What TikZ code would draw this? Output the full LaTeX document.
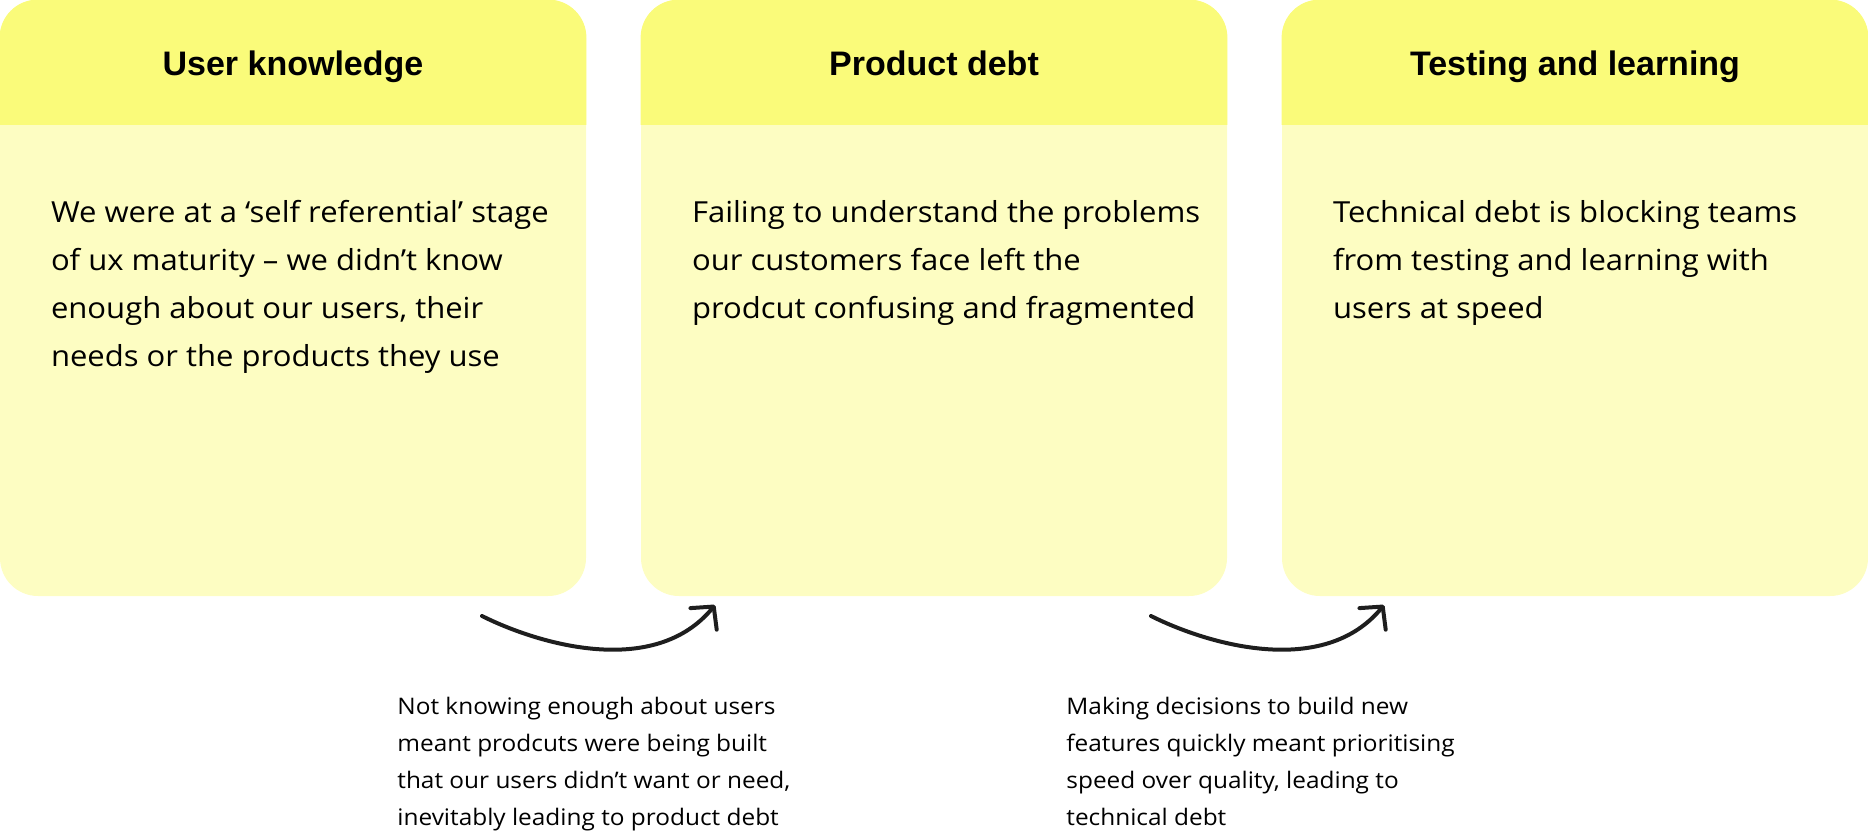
\documentclass[tikz,border=0pt]{standalone}
\usepackage{fontspec}
\setmainfont{Open Sans}[FakeStretch=1.07]
\newfontfamily\headfont{Liberation Sans}
\usepackage{tikz}
\usetikzlibrary{arrows.meta}
\definecolor{headfill}{RGB}{250,251,122}
\definecolor{bodyfill}{RGB}{253,253,194}
\definecolor{pen}{RGB}{30,30,30}

\begin{document}
\begin{tikzpicture}[x=0.5pt, y=-0.5pt, line cap=round, line join=round,
    card/.style={rectangle, rounded corners=19pt, fill=bodyfill, inner sep=0pt,
                 minimum width=293pt, minimum height=298pt},
    cardtitle/.style={font=\headfont\fontsize{17}{20}\selectfont\bfseries, text=black,
                      anchor=base},
    cardtext/.style={font=\fontsize{14.5}{24}\selectfont, text=black, align=left,
                     inner sep=0pt, anchor=north west},
    caption/.style={font=\fontsize{11.4}{18.5}\selectfont, text=black, align=left,
                    inner sep=0pt, anchor=north west},
    flow/.style={pen, line width=2pt, -{Straight Barb[length=8pt, width=17pt, round]}}]

  %========= frame =========
  \useasboundingbox (0,0) rectangle (1868,835);

  %========= cards =========
  \foreach \i/\cx/\ttl in {1/293/User knowledge, 2/934/Product debt, 3/1575/Testing and learning}{
    \node[card] (card\i) at (\cx,298) {};
    \begin{scope}
      \clip (card\i.north west) rectangle ([yshift=-62.5pt]card\i.north east);
      \fill[headfill, rounded corners=19pt] (card\i.north west) rectangle (card\i.south east);
    \end{scope}
    \node[cardtitle] (title\i) at ([yshift=-38pt]card\i.north) {\ttl};
  }

  %========= card texts =========
  \node[cardtext] (text1) at ([xshift=25.5pt, yshift=-100pt]card1.north west)
    {We were at a ‘self referential’ stage\\of ux maturity – we didn’t know\\enough about our users, their\\needs or the products they use};
  \node[cardtext] (text2) at ([xshift=25.5pt, yshift=-100pt]card2.north west)
    {Failing to understand the problems\\our customers face left the\\prodcut confusing and fragmented};
  \node[cardtext] (text3) at ([xshift=25.5pt, yshift=-100pt]card3.north west)
    {Technical debt is blocking teams\\from testing and learning with\\users at speed};

  %========= arrows between cards =========
  \foreach \j/\dx in {1/0, 2/669}{
    \coordinate (from\j) at (482+\dx,616);
    \coordinate (to\j) at (715+\dx,605);
    \draw[flow] (from\j) .. controls +(58,29) and +(-60,73) .. (to\j);
  }

  %========= captions =========
  \node[caption] (note1) at (397,697)
    {Not knowing enough about users\\meant prodcuts were being built\\that our users didn’t want or need,\\inevitably leading to product debt};
  \node[caption] (note2) at (1066,697)
    {Making decisions to build new\\features quickly meant prioritising\\speed over quality, leading to\\technical debt};
\end{tikzpicture}
\end{document}
